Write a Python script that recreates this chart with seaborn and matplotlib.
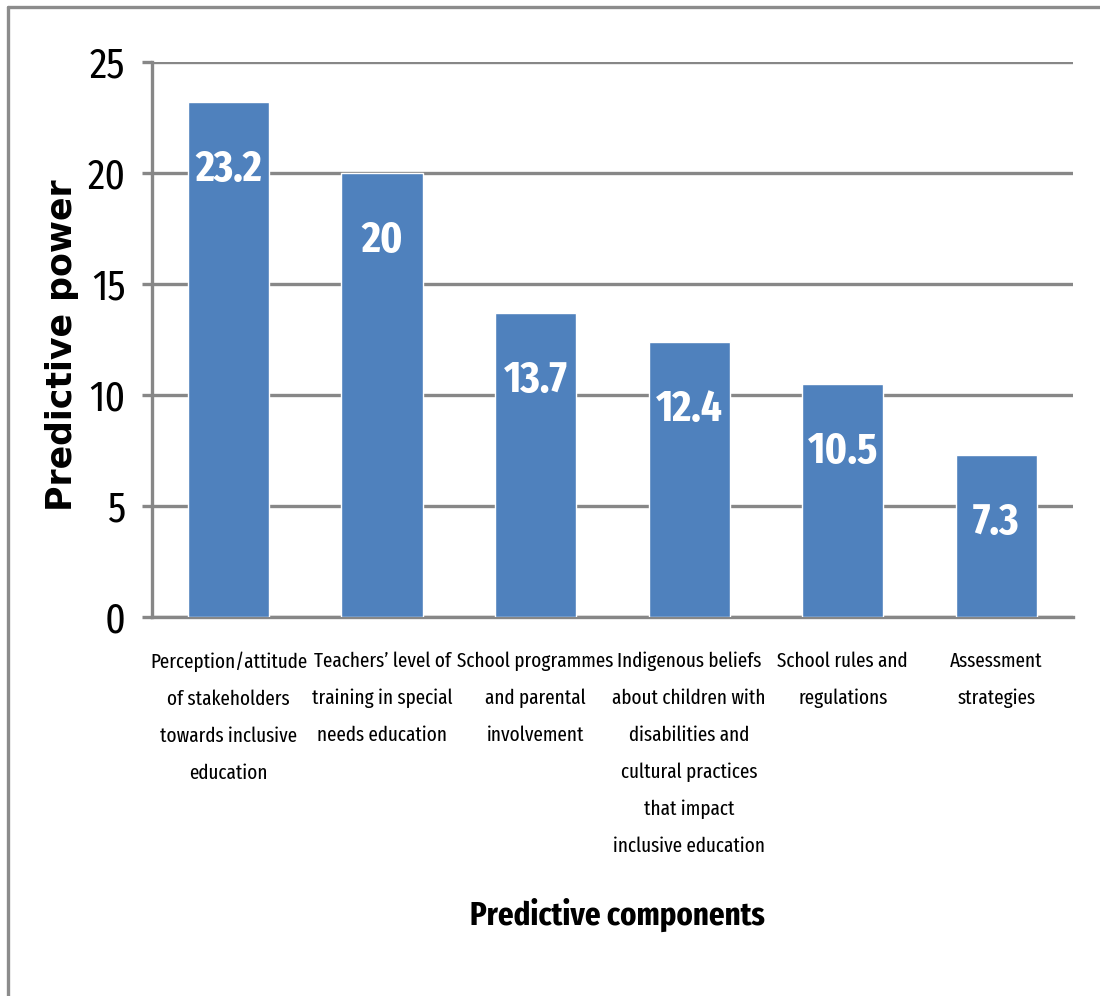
import matplotlib
matplotlib.use("Agg")
import matplotlib.pyplot as plt
import seaborn as sns
import pandas as pd
from matplotlib.lines import Line2D

# Data
components = [
    "Perception/attitude\nof stakeholders\ntowards inclusive\neducation",
    "Teachers\u2019 level of\ntraining in special\nneeds education",
    "School programmes\nand parental\ninvolvement",
    "Indigenous beliefs\nabout children with\ndisabilities and\ncultural practices\nthat impact\ninclusive education",
    "School rules and\nregulations",
    "Assessment\nstrategies",
]
power = [23.2, 20, 13.7, 12.4, 10.5, 7.3]
power_labels = ["23.2", "20", "13.7", "12.4", "10.5", "7.3"]
y_ticks = [0, 5, 10, 15, 20, 25]

df = pd.DataFrame({"Component": components, "Power": power})

sns.set_style("white")
narrow = ["Fira Sans Extra Condensed", "DejaVu Sans"]
plt.rcParams["font.family"] = narrow

grid_col = "#878787"
bar_col = "#4F81BD"

fig = plt.figure(figsize=(11, 9.96), dpi=100)
ax = fig.add_axes([0.138, 0.3805, 0.8375, 0.5573])

sns.barplot(data=df, x="Component", y="Power", color=bar_col, width=0.53,
            saturation=1, ax=ax, zorder=3)

ax.set_ylim(0, 25)
ax.set_xlim(-0.5, 5.5)
ax.set_yticks(y_ticks)
ax.yaxis.grid(True, color=grid_col, linewidth=2.4, zorder=0)
ax.set_axisbelow(True)

for s in ["top", "right"]:
    ax.spines[s].set_visible(False)
for s in ["left", "bottom"]:
    ax.spines[s].set_color(grid_col)
    ax.spines[s].set_linewidth(2.4)

ax.tick_params(axis="y", length=7, width=2.4, color=grid_col, pad=12,
               labelsize=31, left=True, labelcolor="black")
ax.tick_params(axis="x", length=0, pad=25, labelsize=15, labelcolor="black")
for lbl in ax.get_xticklabels():
    lbl.set_linespacing(2.12)
    lbl.set_verticalalignment("top")

# value labels inside bars
for i, (v, t) in enumerate(zip(power, power_labels)):
    ax.annotate(t, xy=(i, v), xytext=(0, -49), textcoords="offset points",
                ha="center", va="center", color="white", fontsize=32,
                fontweight="bold", zorder=5)

ax.set_ylabel("Predictive power", family="DejaVu Sans", fontweight="bold",
              fontsize=25, color="black")
ax.set_xlabel("Predictive components", fontweight="bold", fontsize=24,
              color="black")
ax.yaxis.set_label_coords(-0.079, 0.49)
ax.xaxis.set_label_coords(0.505, -0.505)

# outer chart border (left and top only, as in the crop)
fig.add_artist(Line2D([0.0075, 0.0075], [0, 0.9925], color="#8c8c8c",
                      linewidth=2.4, transform=fig.transFigure))
fig.add_artist(Line2D([0.0075, 1.0], [0.9925, 0.9925], color="#8c8c8c",
                      linewidth=2.4, transform=fig.transFigure))

fig.savefig("out.png", dpi=100, facecolor="white")
